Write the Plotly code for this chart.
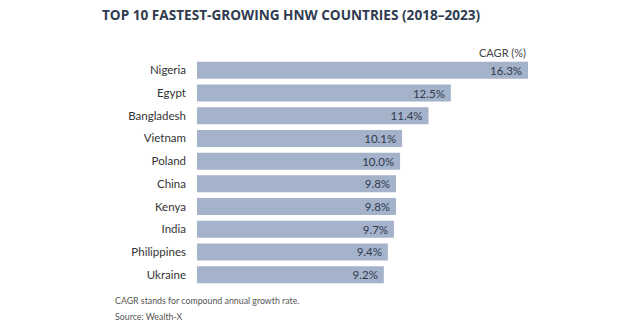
import plotly.graph_objects as go

# Top 10 fastest-growing HNW countries, CAGR 2018-2023 (%)
countries = ["Nigeria", "Egypt", "Bangladesh", "Vietnam", "Poland",
             "China", "Kenya", "India", "Philippines", "Ukraine"]
cagr = [16.3, 12.5, 11.4, 10.1, 10.0, 9.8, 9.8, 9.7, 9.4, 9.2]
value_labels = [f"{v:.1f}%&nbsp;" for v in cagr]

title_text = "TOP 10 FASTEST-GROWING HNW COUNTRIES (2018–2023)"
unit_text = "CAGR (%)"
footnotes = ["CAGR stands for compound annual growth rate.", "Source: Wealth-X"]

BAR = "#a4b2ca"
INK = "#2f3b50"
PLOT_W = 630 - 197 - 102
PLOT_H = 330 - 59 - 44

fig = go.Figure(
    go.Bar(
        x=cagr,
        y=countries,
        orientation="h",
        marker=dict(color=BAR, line=dict(width=0)),
        text=value_labels,
        textposition="inside",
        insidetextanchor="end",
        constraintext="none",
        textfont=dict(family="Lato", size=11.5, color=INK),
        cliponaxis=False,
    )
)

fig.update_layout(
    width=630,
    height=330,
    margin=dict(l=197, r=102, t=59, b=44),
    paper_bgcolor="white",
    plot_bgcolor="white",
    bargap=0.25,
    showlegend=False,
    font=dict(family="Lato", color="#333333"),
    xaxis=dict(range=[0, 16.3], visible=False, fixedrange=True),
    yaxis=dict(
        autorange="reversed",
        showgrid=False,
        showline=False,
        zeroline=False,
        ticks="",
        ticklabelstandoff=10,
        tickfont=dict(family="Lato", size=11.5, color="#333333"),
    ),
)

fig.add_annotation(
    text=f"<b>{title_text}</b>", xref="paper", yref="paper",
    x=-97 / PLOT_W, y=1 + 45 / PLOT_H, xanchor="left", yanchor="middle",
    showarrow=False, font=dict(family="Open Sans", size=13.6, color="#2f3b50"),
)
fig.add_annotation(
    text=unit_text, xref="paper", yref="paper",
    x=1, y=1 + 7 / PLOT_H, xanchor="right", yanchor="middle",
    showarrow=False, font=dict(family="Lato", size=11, color="#444444"),
)
for i, note in enumerate(footnotes):
    fig.add_annotation(
        text=note, xref="paper", yref="paper",
        x=-84 / PLOT_W, y=-(14 + 16 * i) / PLOT_H, xanchor="left", yanchor="middle",
        showarrow=False, font=dict(family="Lato", size=8.8, color="#555555"),
    )

fig.write_html("out.html")
